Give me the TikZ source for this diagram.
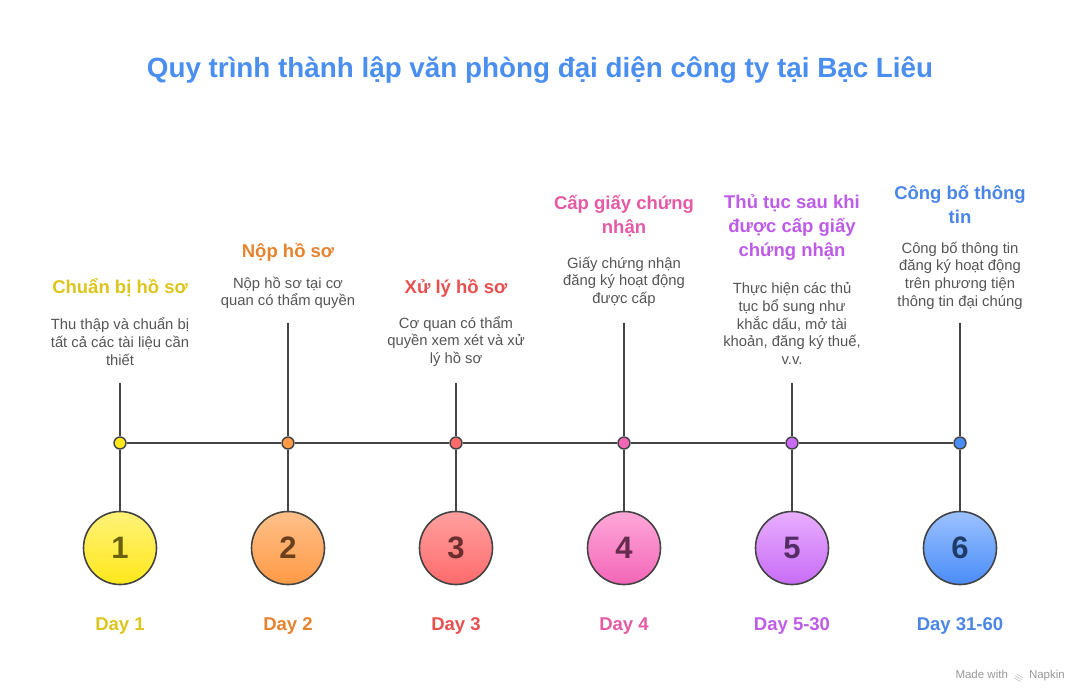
\documentclass[tikz,border=0pt]{standalone}
\usepackage{fontspec}
\setmainfont{Liberation Sans}
\definecolor{linec}{HTML}{444444}
\definecolor{descc}{HTML}{555555}
\definecolor{mainblue}{HTML}{4A8FF0}
\definecolor{cA}{HTML}{DCC51C}
\definecolor{cB}{HTML}{E5832F}
\definecolor{cC}{HTML}{E8504F}
\definecolor{cD}{HTML}{E55AA5}
\definecolor{cE}{HTML}{BE5CE8}
\definecolor{cF}{HTML}{4A86E8}
\definecolor{tA}{HTML}{FFF27A}\definecolor{bA}{HTML}{FFE81A}
\definecolor{tB}{HTML}{FFC08A}\definecolor{bB}{HTML}{FF9A45}
\definecolor{tC}{HTML}{FFA0A0}\definecolor{bC}{HTML}{FF6B6B}
\definecolor{tD}{HTML}{FFA8D8}\definecolor{bD}{HTML}{F266B8}
\definecolor{tE}{HTML}{E8AEFF}\definecolor{bE}{HTML}{C86CF5}
\definecolor{tF}{HTML}{9CC2FF}\definecolor{bF}{HTML}{4A8CF8}
\tikzset{
  ttl/.style={font=\fontsize{18.5}{24}\selectfont\bfseries, align=center, inner sep=0pt},
  dsc/.style={font=\fontsize{14.8}{17.6}\selectfont, text=descc, align=center, inner sep=0pt},
  daylbl/.style={font=\fontsize{18.5}{22}\selectfont\bfseries, inner sep=0pt},
  bigc/.style={circle, draw=linec, line width=1.6pt, minimum size=73pt, inner sep=0pt,
     font=\fontsize{31}{34}\selectfont\bfseries},
  dot/.style={circle, draw=linec, line width=1.4pt, minimum size=12pt, inner sep=0pt},
  conn/.style={draw=linec, line width=2pt},
}
\begin{document}
\begin{tikzpicture}[x=1pt,y=-1pt]
\useasboundingbox (0,0) rectangle (1080,696);
\fill[white] (0,0) rectangle (1080,696);
\node[font=\fontsize{27.8}{32}\selectfont\bfseries, text=mainblue, inner sep=0pt] (title) at (540,70) {Quy trình thành lập văn phòng đại diện công ty tại Bạc Liêu};

% text tops
\coordinate (s1) at (120,383);
\coordinate (s2) at (288,323);
\coordinate (s3) at (456,383);
\coordinate (s4) at (624,323);
\coordinate (s5) at (792,383);
\coordinate (s6) at (960,323);

% dots on timeline
\node[dot, fill=bA] (d1) at (120,443) {};
\node[dot, fill=bB] (d2) at (288,443) {};
\node[dot, fill=bC] (d3) at (456,443) {};
\node[dot, fill=bD] (d4) at (624,443) {};
\node[dot, fill=bE] (d5) at (792,443) {};
\node[dot, fill=bF] (d6) at (960,443) {};

% big circles
\node[bigc, top color=tA, bottom color=bA, text=bA!42!black] (n1) at (120,548) {1};
\node[bigc, top color=tB, bottom color=bB, text=bB!42!black] (n2) at (288,548) {2};
\node[bigc, top color=tC, bottom color=bC, text=bC!42!black] (n3) at (456,548) {3};
\node[bigc, top color=tD, bottom color=bD, text=bD!42!black] (n4) at (624,548) {4};
\node[bigc, top color=tE, bottom color=bE, text=bE!42!black] (n5) at (792,548) {5};
\node[bigc, top color=tF, bottom color=bF, text=bF!42!black] (n6) at (960,548) {6};

% connectors
\foreach \i in {1,...,6}{
  \draw[conn] (s\i) -- (d\i.north);
  \draw[conn] (d\i.south) -- (n\i.north);
}
\draw[conn] (d1.east) -- (d2.west);
\draw[conn] (d2.east) -- (d3.west);
\draw[conn] (d3.east) -- (d4.west);
\draw[conn] (d4.east) -- (d5.west);
\draw[conn] (d5.east) -- (d6.west);

% titles and descriptions
\node[ttl, text=cA] (t1) at (120,288) {Chuẩn bị hồ sơ};
\node[dsc] (x1) at (120,341.5) {Thu thập và chuẩn bị\\tất cả các tài liệu cần\\thiết};
\node[ttl, text=cB] (t2) at (288,252) {Nộp hồ sơ};
\node[dsc] (x2) at (288,293) {Nộp hồ sơ tại cơ\\quan có thẩm quyền};
\node[ttl, text=cC] (t3) at (456,288) {Xử lý hồ sơ};
\node[dsc] (x3) at (456,341.5) {Cơ quan có thẩm\\quyền xem xét và xử\\lý hồ sơ};
\node[ttl, text=cD] (t4) at (624,216) {Cấp giấy chứng\\nhận};
\node[dsc] (x4) at (624,281.5) {Giấy chứng nhận\\đăng ký hoạt động\\được cấp};
\node[ttl, text=cE] (t5) at (792,228) {Thủ tục sau khi\\được cấp giấy\\chứng nhận};
\node[dsc] (x5) at (792,323.5) {Thực hiện các thủ\\tục bổ sung như\\khắc dấu, mở tài\\khoản, đăng ký thuế,\\v.v.};
\node[ttl, text=cF] (t6) at (960,204) {Công bố thông\\tin};
\node[dsc] (x6) at (960,275.5) {Công bố thông tin\\đăng ký hoạt động\\trên phương tiện\\thông tin đại chúng};

% day labels
\node[daylbl, text=cA] (y1) at (120,626) {Day 1};
\node[daylbl, text=cB] (y2) at (288,626) {Day 2};
\node[daylbl, text=cC] (y3) at (456,626) {Day 3};
\node[daylbl, text=cD] (y4) at (624,626) {Day 4};
\node[daylbl, text=cE] (y5) at (792,626) {Day 5-30};
\node[daylbl, text=cF] (y6) at (960,626) {Day 31-60};

% watermark
\node[font=\fontsize{11.5}{13}\selectfont, text=black!40, anchor=east, inner sep=0pt] (wm) at (1065,677) {Made with \,{\bfseries\fontsize{13}{13}\selectfont\rotatebox{-30}{$\equiv$}}\, Napkin};
\end{tikzpicture}
\end{document}
